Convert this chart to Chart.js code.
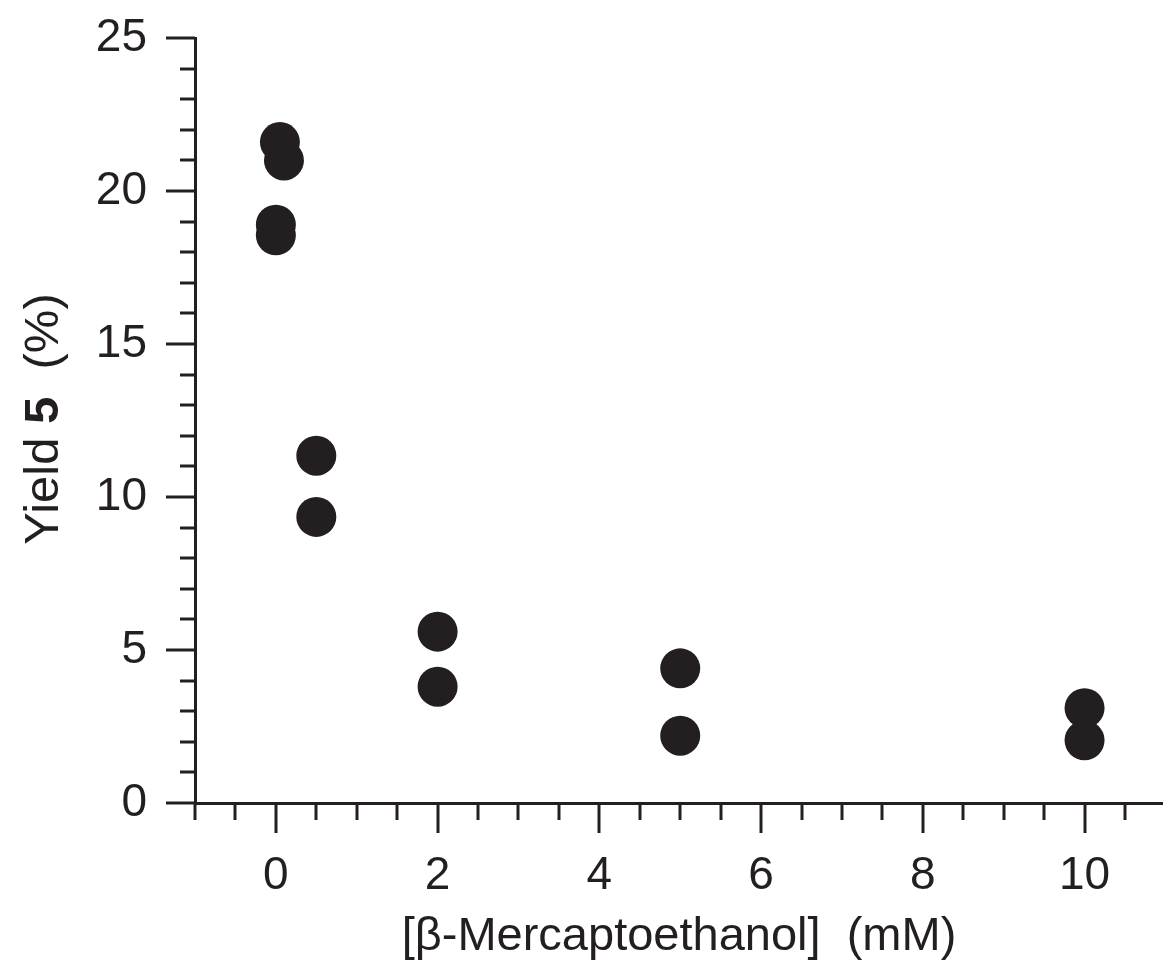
<!DOCTYPE html>
<html>
<head>
<meta charset="utf-8">
<script src="https://cdn.jsdelivr.net/npm/chart.js@4"></script>
<style>
  body { margin: 0; background: #fff; }
  #wrap { width: 1163px; height: 966px; position: relative; }
</style>
</head>
<body>
<div id="wrap"><canvas id="chart"></canvas></div>
<script>
// =======================
// Data
const concentration = [0.05, 0.1, 0, 0, 0.5, 0.5, 2, 2, 5, 5, 10, 10];
const yieldPct      = [21.6, 21.0, 18.9, 18.55, 11.35, 9.35, 5.6, 3.8, 4.4, 2.2, 3.1, 2.05];

// tick positions
const xTicks = [-1, -0.5, 0, 0.5, 1, 1.5, 2, 2.5, 3, 3.5, 4, 4.5, 5, 5.5, 6, 6.5, 7, 7.5, 8, 8.5, 9, 9.5, 10, 10.5];
const xLabels = [0, 2, 4, 6, 8, 10];
const yTicks = [0, 1, 2, 3, 4, 5, 6, 7, 8, 9, 10, 11, 12, 13, 14, 15, 16, 17, 18, 19, 20, 21, 22, 23, 24, 25];
const yLabels = [0, 5, 10, 15, 20, 25];

const xTitle = "[\u03B2-Mercaptoethanol]  (mM)";
const yTitleParts = [["Yield ", "normal"], ["5", "bold"], ["  (%)", "normal"]];

const ink = "#231f20";
const fontFamily = "'Liberation Sans', Arial, Helvetica, sans-serif";

// =======================
// Ticks: long at labelled values, short elsewhere, pointing outwards
const outerTicks = {
  id: "outerTicks",
  afterDraw(chart) {
    const {ctx, chartArea, scales: {x, y}} = chart;
    ctx.save();
    ctx.strokeStyle = ink;
    ctx.lineWidth = 3;
    xTicks.forEach(v => {
      const px = Math.round(x.getPixelForValue(v));
      const len = xLabels.includes(v) ? 30 : 17;
      ctx.beginPath();
      ctx.moveTo(px, chartArea.bottom);
      ctx.lineTo(px, chartArea.bottom + len);
      ctx.stroke();
    });
    yTicks.forEach(v => {
      const py = Math.round(y.getPixelForValue(v));
      const len = yLabels.includes(v) ? 29 : 15;
      ctx.beginPath();
      ctx.moveTo(chartArea.left, py);
      ctx.lineTo(chartArea.left - len, py);
      ctx.stroke();
    });
    ctx.restore();
  }
};

// =======================
// Y title with the bold compound number
const yTitle = {
  id: "yTitle",
  afterDraw(chart) {
    const ctx = chart.ctx;
    const size = 49;
    ctx.save();
    const widths = yTitleParts.map(([t, w]) => {
      ctx.font = `${w} ${size}px ${fontFamily}`;
      return ctx.measureText(t).width;
    });
    const total = widths.reduce((a, b) => a + b, 0);
    ctx.translate(44, 419);
    ctx.rotate(-Math.PI / 2);
    ctx.fillStyle = ink;
    ctx.textBaseline = "middle";
    let pos = -total / 2;
    yTitleParts.forEach(([t, w], i) => {
      ctx.font = `${w} ${size}px ${fontFamily}`;
      ctx.fillText(t, pos, 0);
      pos += widths[i];
    });
    ctx.restore();
  }
};

// =======================
new Chart(document.getElementById("chart"), {
  type: "scatter",
  data: {
    datasets: [{
      data: concentration.map((c, i) => ({x: c, y: yieldPct[i]})),
      backgroundColor: ink,
      borderColor: ink,
      borderWidth: 0,
      pointRadius: 20,
      pointHoverRadius: 20
    }]
  },
  options: {
    responsive: true,
    maintainAspectRatio: false,
    animation: false,
    layout: { autoPadding: false, padding: { top: 38, right: 0, left: 0, bottom: 0 } },
    plugins: { legend: { display: false }, tooltip: { enabled: false } },
    scales: {
      x: {
        type: "linear",
        min: -1,
        max: 10.97,
        afterBuildTicks: s => { s.ticks = xTicks.map(v => ({value: v})); },
        afterFit: s => { s.height = 163; s.paddingLeft = 0; s.paddingRight = 0; },
        grid: { display: false, drawTicks: false },
        border: { display: true, color: ink, width: 3 },
        ticks: {
          autoSkip: false,
          maxRotation: 0,
          padding: 46,
          color: ink,
          font: { family: fontFamily, size: 46 },
          callback: v => xLabels.includes(v) ? String(v) : ""
        },
        title: {
          display: true,
          text: xTitle,
          color: ink,
          font: { family: fontFamily, size: 47 },
          padding: { top: 0, bottom: 1 }
        }
      },
      y: {
        type: "linear",
        min: 0,
        max: 25,
        afterBuildTicks: s => { s.ticks = yTicks.map(v => ({value: v})); },
        afterFit: s => { s.width = 195; s.paddingTop = 0; s.paddingBottom = 0; },
        grid: { display: false, drawTicks: false },
        border: { display: true, color: ink, width: 3 },
        ticks: {
          autoSkip: false,
          padding: 48,
          color: ink,
          font: { family: fontFamily, size: 46 },
          callback: v => yLabels.includes(v) ? String(v) : ""
        }
      }
    }
  },
  plugins: [outerTicks, yTitle]
});
</script>
</body>
</html>
